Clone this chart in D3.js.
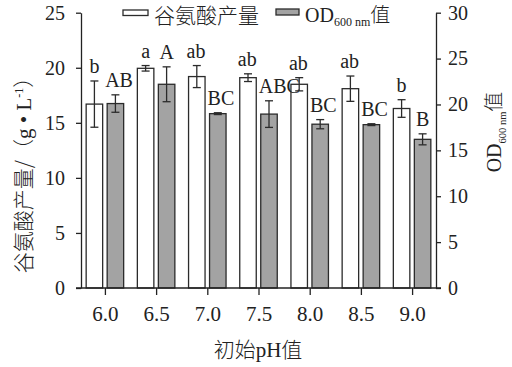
<!DOCTYPE html>
<html><head><meta charset="utf-8">
<script src="https://cdn.jsdelivr.net/npm/d3@7"></script>
<style>
html,body{margin:0;padding:0;background:#fff;}
svg text{font-family:"Liberation Serif","Times New Roman","Noto Sans CJK SC",serif;fill:#222;}
.cjk{font-family:"Noto Sans CJK SC","Liberation Serif",sans-serif;font-weight:300;}
</style></head>
<body><svg id="c" width="512" height="367"></svg>
<script>
const categories = ["6.0","6.5","7.0","7.5","8.0","8.5","9.0"];
const glutamate = [16.7, 19.95, 19.2, 19.1, 18.5, 18.1, 16.3];
const glutamateErr = [2.1, 0.25, 1.0, 0.35, 0.6, 1.15, 0.8];
const glutamateSig = ["b","a","ab","ab","ab","ab","b"];
const od = [20.1, 22.2, 19.0, 18.95, 17.85, 17.8, 16.2];
const odErr = [0.95, 1.9, 0.1, 1.45, 0.5, 0.1, 0.6];
const odSig = ["AB","A","BC","ABC","BC","BC","B"];
const leftTicks = [0,5,10,15,20,25];
const rightTicks = [0,5,10,15,20,25,30];

const svg = d3.select("#c");
const x = d3.scalePoint().domain(categories).range([81,436]).padding(0.467);
const yL = d3.scaleLinear().domain([0,25]).range([288,12.7]);
const yR = d3.scaleLinear().domain([0,30]).range([288,12.7]);
const bw = 16.5, off = 10.5;
const stroke = "#2b2b2b";

function drawSeries(vals, errs, sigs, scale, dx, fill){
  const g = svg.append("g");
  g.selectAll("rect").data(vals).join("rect")
    .attr("x",(d,i)=>x(categories[i])+dx-bw/2)
    .attr("y",d=>scale(d))
    .attr("width",bw)
    .attr("height",d=>scale(0)-scale(d))
    .attr("fill",fill).attr("stroke",stroke).attr("stroke-width",1.3);
  vals.forEach((v,i)=>{
    const cx = x(categories[i])+dx;
    const t = scale(v+errs[i]), b = scale(v-errs[i]);
    g.append("line").attr("x1",cx).attr("x2",cx).attr("y1",t).attr("y2",b).attr("stroke",stroke).attr("stroke-width",1.3);
    [t,b].forEach(yy=>g.append("line").attr("x1",cx-4).attr("x2",cx+4).attr("y1",yy).attr("y2",yy).attr("stroke",stroke).attr("stroke-width",1.3));
    const lab = g.append("text").text(sigs[i]).attr("font-size",20).attr("y",t-8);
    const w = lab.node().getComputedTextLength();
    if (w > bw) lab.attr("x",cx-bw/2-2).attr("text-anchor","start");
    else lab.attr("x",cx).attr("text-anchor","middle");
  });
}
drawSeries(glutamate, glutamateErr, glutamateSig, yL, -off, "#ffffff");
drawSeries(od, odErr, odSig, yR, off, "#a3a3a3");

const axStyle = g=>{g.selectAll("path,line").attr("stroke","#222").attr("stroke-width",1.3);
  g.selectAll("text").attr("font-size",20).attr("fill","#222").attr("font-family","Liberation Serif, serif");};
svg.append("g").attr("transform","translate(81,0)")
  .call(d3.axisLeft(yL).tickValues(leftTicks).tickSize(5).tickSizeOuter(0).tickPadding(11)).call(axStyle);
svg.append("g").attr("transform","translate(436,0)")
  .call(d3.axisRight(yR).tickValues(rightTicks).tickSize(5).tickSizeOuter(0).tickPadding(7)).call(axStyle);
const xa = svg.append("g").attr("transform","translate(0,288)")
  .call(d3.axisBottom(x).tickSize(7).tickSizeOuter(0).tickPadding(11)).call(axStyle);
xa.select("path.domain").remove();
xa.append("line").attr("x1",76).attr("x2",441).attr("y1",0).attr("y2",0).attr("stroke","#222").attr("stroke-width",1.3);
xa.selectAll(".tick text").attr("font-size",21);

svg.append("text").attr("text-anchor","middle").attr("x",258).attr("y",357)
  .attr("font-size",21).html('<tspan class="cjk">初始</tspan>pH<tspan class="cjk">值</tspan>');
const lt = svg.append("text").attr("text-anchor","middle")
  .attr("transform","translate(31,170) rotate(-90)").attr("font-size",21);
lt.append("tspan").attr("class","cjk").text("谷氨酸产量/（");
lt.append("tspan").text("g • L");
lt.append("tspan").attr("font-size",12).attr("dy",-8).text("-1");
lt.append("tspan").attr("class","cjk").attr("dy",8).text("）");
const rt = svg.append("text").attr("text-anchor","middle")
  .attr("transform","translate(501,132) rotate(-90)").attr("font-size",20);
rt.append("tspan").text("OD");
rt.append("tspan").attr("font-size",10.5).attr("dy",5).text("600 nm");
rt.append("tspan").attr("class","cjk").attr("dy",-5).text("值");

svg.append("rect").attr("x",123).attr("y",10).attr("width",25).attr("height",5.5)
  .attr("fill","#fff").attr("stroke",stroke).attr("stroke-width",1.3);
svg.append("text").attr("class","cjk").attr("x",154).attr("y",23).attr("font-size",21).text("谷氨酸产量");
svg.append("rect").attr("x",276).attr("y",9).attr("width",23).attr("height",6)
  .attr("fill","#a3a3a3").attr("stroke",stroke).attr("stroke-width",1.3);
const lg = svg.append("text").attr("x",305).attr("y",22).attr("font-size",20);
lg.append("tspan").text("OD");
lg.append("tspan").attr("font-size",12).attr("dy",4).text("600 nm");
lg.append("tspan").attr("class","cjk").attr("dy",-4).text("值");
</script></body></html>
